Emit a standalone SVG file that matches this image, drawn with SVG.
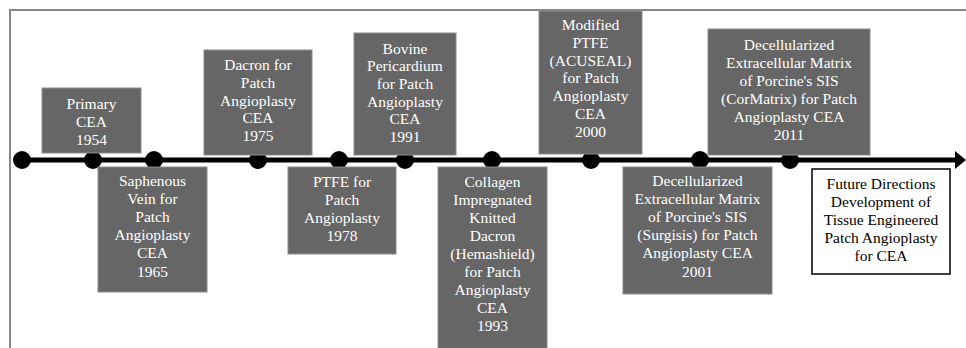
<svg xmlns="http://www.w3.org/2000/svg" width="966" height="348" viewBox="0 0 966 348">
<style>
.box{fill:#666666;stroke:#8c8c8c;stroke-width:1}
.wbox{fill:#ffffff;stroke:#000000;stroke-width:1.5}
.t{font-family:"Liberation Serif","Times New Roman",serif;font-size:15.5px;fill:#ffffff;text-anchor:middle}
.k{fill:#000000}
.dot{fill:#000000}
</style>
<rect width="966" height="348" fill="#ffffff"/>
<path d="M10,348 V10 H966" fill="none" stroke="#888888" stroke-width="2"/>
<g id="connectors">
<line x1="22" y1="160" x2="957" y2="160" stroke="#000" stroke-width="5"/>
<polygon points="955,151 966,160 955,169" fill="#000"/>
<circle class="dot" cx="22" cy="160" r="9"/>
<circle class="dot" cx="93" cy="160" r="9"/>
<circle class="dot" cx="154" cy="160" r="9"/>
<circle class="dot" cx="258" cy="160" r="9"/>
<circle class="dot" cx="339" cy="160" r="9"/>
<circle class="dot" cx="405" cy="160" r="9"/>
<circle class="dot" cx="492" cy="160" r="9"/>
<circle class="dot" cx="591" cy="160" r="9"/>
<circle class="dot" cx="700" cy="160" r="9"/>
<circle class="dot" cx="790" cy="160" r="9"/>
</g>
<g id="n1954">
<rect class="box" x="42" y="88" width="99" height="65"/>
<text class="t" x="91.5" y="109"><tspan x="91.5">Primary</tspan><tspan x="91.5" dy="17.8">CEA</tspan><tspan x="91.5" dy="17.8">1954</tspan></text>
</g>
<g id="n1965">
<rect class="box" x="98" y="167" width="109" height="125"/>
<text class="t" x="152.5" y="186"><tspan x="152.5">Saphenous</tspan><tspan x="152.5" dy="18.1">Vein for</tspan><tspan x="152.5" dy="18.1">Patch</tspan><tspan x="152.5" dy="18.1">Angioplasty</tspan><tspan x="152.5" dy="18.1">CEA</tspan><tspan x="152.5" dy="18.1">1965</tspan></text>
</g>
<g id="n1975">
<rect class="box" x="204" y="50" width="108" height="105"/>
<text class="t" x="258" y="70"><tspan x="258">Dacron for</tspan><tspan x="258" dy="17.8">Patch</tspan><tspan x="258" dy="17.8">Angioplasty</tspan><tspan x="258" dy="17.8">CEA</tspan><tspan x="258" dy="17.8">1975</tspan></text>
</g>
<g id="n1978">
<rect class="box" x="288" y="167" width="108" height="87"/>
<text class="t" x="342" y="186.5"><tspan x="342">PTFE for</tspan><tspan x="342" dy="18">Patch</tspan><tspan x="342" dy="18">Angioplasty</tspan><tspan x="342" dy="18">1978</tspan></text>
</g>
<g id="n1991">
<rect class="box" x="354" y="33" width="102" height="122"/>
<text class="t" x="405" y="53.5"><tspan x="405">Bovine</tspan><tspan x="405" dy="17.7">Pericardium</tspan><tspan x="405" dy="17.7">for Patch</tspan><tspan x="405" dy="17.7">Angioplasty</tspan><tspan x="405" dy="17.7">CEA</tspan><tspan x="405" dy="17.7">1991</tspan></text>
</g>
<g id="n1993">
<rect class="box" x="438" y="167" width="109" height="190"/>
<text class="t" x="492.5" y="186.5"><tspan x="492.5">Collagen</tspan><tspan x="492.5" dy="18.1">Impregnated</tspan><tspan x="492.5" dy="18.1">Knitted</tspan><tspan x="492.5" dy="18.1">Dacron</tspan><tspan x="492.5" dy="18.1">(Hemashield)</tspan><tspan x="492.5" dy="18.1">for Patch</tspan><tspan x="492.5" dy="18.1">Angioplasty</tspan><tspan x="492.5" dy="18.1">CEA</tspan><tspan x="492.5" dy="18.1">1993</tspan></text>
</g>
<g id="n2000">
<rect class="box" x="539" y="11" width="103" height="143"/>
<text class="t" x="590.5" y="30"><tspan x="590.5">Modified</tspan><tspan x="590.5" dy="17.8">PTFE</tspan><tspan x="590.5" dy="17.8">(ACUSEAL)</tspan><tspan x="590.5" dy="17.8">for Patch</tspan><tspan x="590.5" dy="17.8">Angioplasty</tspan><tspan x="590.5" dy="17.8">CEA</tspan><tspan x="590.5" dy="17.8">2000</tspan></text>
</g>
<g id="n2001">
<rect class="box" x="623" y="167" width="149" height="127"/>
<text class="t" x="697.5" y="186"><tspan x="697.5">Decellularized</tspan><tspan x="697.5" dy="18.1">Extracellular Matrix</tspan><tspan x="697.5" dy="18.1">of Porcine's SIS</tspan><tspan x="697.5" dy="18.1">(Surgisis) for Patch</tspan><tspan x="697.5" dy="18.1">Angioplasty CEA</tspan><tspan x="697.5" dy="18.1">2001</tspan></text>
</g>
<g id="n2011">
<rect class="box" x="708" y="29" width="162" height="126"/>
<text class="t" x="789" y="49.5"><tspan x="789">Decellularized</tspan><tspan x="789" dy="18.1">Extracellular Matrix</tspan><tspan x="789" dy="18.1">of Porcine's SIS</tspan><tspan x="789" dy="18.1">(CorMatrix) for Patch</tspan><tspan x="789" dy="18.1">Angioplasty CEA</tspan><tspan x="789" dy="18.1">2011</tspan></text>
</g>
<g id="future">
<rect class="wbox" x="812" y="169" width="138" height="105"/>
<text class="t k" x="881" y="189.3"><tspan x="881">Future Directions</tspan><tspan x="881" dy="17.9">Development of</tspan><tspan x="881" dy="17.9">Tissue Engineered</tspan><tspan x="881" dy="17.9">Patch Angioplasty</tspan><tspan x="881" dy="17.9">for CEA</tspan></text>
</g>
</svg>
